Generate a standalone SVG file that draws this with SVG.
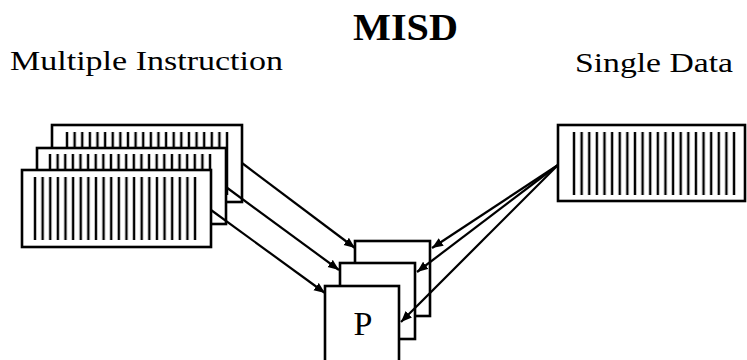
<svg xmlns="http://www.w3.org/2000/svg" width="747" height="360" viewBox="0 0 747 360">
<style>
.card{fill:#fff;stroke:#000;stroke-width:2.6}
.proc{fill:#fff;stroke:#000;stroke-width:2.6}
.conn{fill:none;stroke:#000;stroke-width:2.2;marker-end:url(#ah)}
.t{font-family:"Liberation Serif","DejaVu Serif",serif;fill:#000}
</style>
<defs>
<pattern id="hatch" patternUnits="userSpaceOnUse" width="7.62" height="100">
<rect x="2.61" y="0" width="2.4" height="100" fill="#000"/>
</pattern>
<marker id="ah" markerUnits="userSpaceOnUse" markerWidth="13" markerHeight="10" refX="11" refY="4.5" orient="auto">
<path d="M0,0 L11,4.5 L0,9 Z" fill="#000"/>
</marker>
</defs>
<rect width="747" height="360" fill="#fff"/>
<text class="t" x="405.5" y="40" font-size="38" font-weight="bold" text-anchor="middle" textLength="105" lengthAdjust="spacingAndGlyphs">MISD</text>
<text class="t" x="10" y="70" font-size="28" textLength="273" lengthAdjust="spacingAndGlyphs">Multiple Instruction</text>
<text class="t" x="575" y="72" font-size="28" textLength="158" lengthAdjust="spacingAndGlyphs">Single Data</text>

<g id="instr-back">
<rect class="card" x="52" y="125" width="190" height="77"/>
<g transform="translate(63.2,132)"><rect x="0" y="0" width="167.6" height="63" fill="url(#hatch)"/></g>
</g>
<g id="instr-mid">
<rect class="card" x="37" y="148" width="189" height="76"/>
<g transform="translate(46.2,154)"><rect x="0" y="0" width="167.6" height="64" fill="url(#hatch)"/></g>
</g>
<g id="instr-front">
<rect class="card" x="22" y="170" width="189" height="77"/>
<g transform="translate(31.2,177)"><rect x="0" y="0" width="167.6" height="63" fill="url(#hatch)"/></g>
</g>
<g id="data">
<rect class="card" x="558" y="125" width="187" height="76"/>
<g transform="translate(570.2,132)"><rect x="0" y="0" width="167.6" height="63" fill="url(#hatch)"/></g>
</g>

<g id="proc-back"><rect class="proc" x="355" y="241" width="75" height="75"/></g>
<g id="proc-mid"><rect class="proc" x="340" y="263" width="75" height="76"/></g>
<g id="proc-front"><rect class="proc" x="325" y="286" width="74" height="80"/>
<text class="t" x="363" y="335" font-size="34" text-anchor="middle">P</text></g>

<g id="connectors">
<line class="conn" x1="242" y1="163" x2="355" y2="248"/>
<line class="conn" x1="226" y1="187" x2="339" y2="270"/>
<line class="conn" x1="211" y1="210" x2="325" y2="293"/>
<line class="conn" x1="558" y1="165" x2="432" y2="248"/>
<line class="conn" x1="558" y1="165" x2="417" y2="272"/>
<line class="conn" x1="558" y1="165" x2="401" y2="322"/>
</g>
</svg>
